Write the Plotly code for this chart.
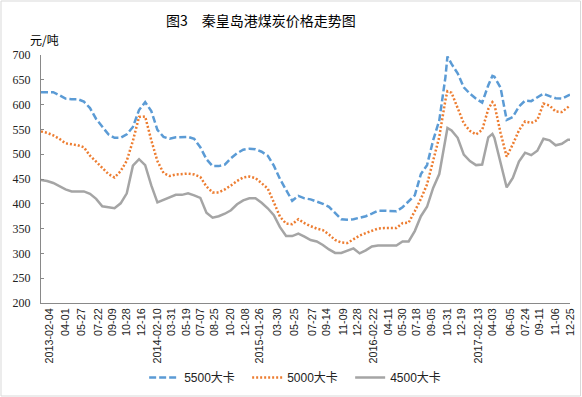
import plotly.graph_objects as go

dates = [
    "2013-01-07", "2013-01-28", "2013-02-18", "2013-03-11", "2013-04-01", "2013-04-22", "2013-05-13", "2013-06-03",
    "2013-06-24", "2013-07-15", "2013-08-05", "2013-08-26", "2013-09-16", "2013-10-07", "2013-10-28", "2013-11-18",
    "2013-12-09", "2013-12-30",
    "2014-01-20", "2014-02-10", "2014-03-03", "2014-03-24", "2014-04-14", "2014-05-05", "2014-05-26", "2014-06-16",
    "2014-07-07", "2014-07-28", "2014-08-18", "2014-09-08", "2014-09-29", "2014-10-20", "2014-11-10", "2014-12-01",
    "2014-12-22",
    "2015-01-12", "2015-02-02", "2015-02-23", "2015-03-16", "2015-04-06", "2015-04-27", "2015-05-18", "2015-06-08",
    "2015-06-29", "2015-07-20", "2015-08-10", "2015-08-31", "2015-09-21", "2015-10-12", "2015-11-02", "2015-11-23",
    "2015-12-14",
    "2016-01-04", "2016-01-25", "2016-02-15", "2016-03-07", "2016-03-28", "2016-04-18", "2016-05-09", "2016-05-30",
    "2016-06-20", "2016-07-11", "2016-08-01", "2016-08-22", "2016-09-12", "2016-10-03", "2016-10-24", "2016-10-31",
    "2016-11-14", "2016-12-05", "2016-12-26",
    "2017-01-16", "2017-02-06", "2017-02-27", "2017-03-20", "2017-04-03", "2017-04-10", "2017-05-01", "2017-05-22",
    "2017-06-12", "2017-07-03", "2017-07-24", "2017-08-14", "2017-09-04", "2017-09-25", "2017-10-16", "2017-11-06",
    "2017-11-27", "2017-12-18", "2017-12-25",
]

price_5500 = [
    625, 625, 625, 619, 612, 611, 611, 606, 593, 571, 555, 540, 533, 533, 540, 555, 589, 605,
    587, 549, 535, 531, 534, 535, 535, 531, 514, 490, 476, 476, 479, 492, 502, 509, 511,
    510, 505, 497, 477, 450, 427, 406, 416, 411, 409, 405, 400, 394, 381, 369, 368, 369,
    372, 375, 380, 386, 386, 385, 385, 393, 404, 417, 460, 478, 528, 568, 655, 697, 682, 663, 635,
    622, 612, 604, 639, 658, 656, 634, 569, 575, 596, 608, 607, 615, 622, 617, 613, 612, 618, 620,
]

price_5000 = [
    546, 543, 538, 531, 522, 520, 518, 514, 497, 485, 473, 460, 453, 466, 487, 527, 575, 576,
    528, 486, 462, 456, 459, 460, 461, 459, 454, 435, 423, 423, 429, 437, 446, 453, 455,
    452, 442, 431, 403, 374, 360, 359, 369, 361, 355, 350, 347, 338, 327, 322, 321, 328,
    336, 341, 346, 350, 351, 351, 351, 361, 362, 385, 410, 439, 487, 535, 609, 627, 624, 593, 562,
    547, 540, 549, 591, 605, 600, 543, 495, 520, 548, 566, 563, 569, 602, 598, 586, 585, 596, 598,
]

price_4500 = [
    448, 446, 442, 436, 429, 425, 425, 425, 420, 410, 395, 393, 391, 401, 421, 477, 490, 478,
    437, 403, 408, 413, 418, 418, 421, 417, 412, 382, 372, 375, 380, 387, 399, 407, 411,
    411, 402, 391, 377, 353, 335, 335, 340, 334, 327, 324, 317, 308, 301, 301, 305, 310,
    300, 306, 314, 316, 316, 316, 316, 324, 324, 345, 375, 394, 432, 460, 524, 553, 548, 533, 499,
    486, 478, 479, 534, 541, 533, 481, 433, 452, 485, 503, 498, 507, 531, 528, 518, 521, 529, 529,
]

series_names = ["5500大卡", "5000大卡", "4500大卡"]

tick_dates = [
    "2013-02-04", "2013-04-01", "2013-05-27", "2013-07-22", "2013-09-09", "2013-10-28", "2013-12-16",
    "2014-02-10", "2014-03-31", "2014-05-19", "2014-07-07", "2014-08-25", "2014-10-20", "2014-12-08",
    "2015-01-26", "2015-03-30", "2015-05-25", "2015-07-27", "2015-09-14", "2015-11-09", "2015-12-28",
    "2016-02-22", "2016-04-11", "2016-05-30", "2016-07-18", "2016-09-05", "2016-10-31", "2016-12-19",
    "2017-02-13", "2017-04-03", "2017-06-05", "2017-07-24", "2017-09-11", "2017-11-06", "2017-12-25",
]
tick_labels = [
    "2013-02-04", "04-01", "05-27", "07-22", "09-09", "10-28", "12-16",
    "2014-02-10", "03-31", "05-19", "07-07", "08-25", "10-20", "12-08",
    "2015-01-26", "03-30", "05-25", "07-27", "09-14", "11-09", "12-28",
    "2016-02-22", "04-11", "05-30", "07-18", "09-05", "10-31", "12-19",
    "2017-02-13", "04-03", "06-05", "07-24", "09-11", "11-06", "12-25",
]

y_ticks = [200, 250, 300, 350, 400, 450, 500, 550, 600, 650, 700]

SANS = "Liberation Sans, Noto Sans CJK SC, sans-serif"
CJK = "Noto Sans CJK SC, sans-serif"

fig = go.Figure()
fig.add_trace(go.Scatter(x=dates, y=price_5500, name=series_names[0], mode="lines",
                         line=dict(color="#5B9BD5", width=2.5, dash="7px,3px")))
fig.add_trace(go.Scatter(x=dates, y=price_5000, name=series_names[1], mode="lines",
                         line=dict(color="#ED7D31", width=2.5, dash="2px,2px")))
fig.add_trace(go.Scatter(x=dates, y=price_4500, name=series_names[2], mode="lines",
                         line=dict(color="#A5A5A5", width=2.5)))

fig.update_layout(
    width=582, height=397,
    margin=dict(l=41, r=12, t=55, b=94, autoexpand=False),
    paper_bgcolor="white", plot_bgcolor="white",
    showlegend=True,
    hovermode=False,
    legend=dict(orientation="h", x=0.195, xanchor="left", y=-0.30, yanchor="middle",
                entrywidth=58, entrywidthmode="pixels",
                font=dict(family=SANS, size=12, color="#222222"), bgcolor="rgba(0,0,0,0)"),
    xaxis=dict(type="date", range=["2013-01-07", "2017-12-25"], tickmode="array",
               tickvals=tick_dates, ticktext=tick_labels, tickangle=-90,
               tickfont=dict(family=SANS, size=10.8, color="#222222"),
               showgrid=False, zeroline=False, showline=True, linecolor="#898989", linewidth=1,
               ticks="", fixedrange=True),
    yaxis=dict(range=[200, 700], tickmode="array", tickvals=y_ticks,
               tickfont=dict(family="Liberation Serif, serif", size=12, color="#222222"),
               showgrid=False, zeroline=False, showline=True, linecolor="#898989", linewidth=1,
               ticks="inside", ticklen=3, tickcolor="#898989", ticklabelstandoff=7, fixedrange=True),
    annotations=[
        dict(text="图3　秦皇岛港煤炭价格走势图", xref="paper", yref="paper",
             x=(261 - 41) / 529, y=(303 - 20) / 248, xanchor="center", yanchor="middle",
             showarrow=False, font=dict(family=CJK, size=14, color="#000000")),
        dict(text="元/吨", xref="paper", yref="paper", x=-0.0246, y=1.0605,
             xanchor="left", yanchor="middle", showarrow=False,
             font=dict(family=CJK, size=12, color="#000000")),
    ],
    shapes=[dict(type="rect", xref="paper", yref="paper", x0=-0.0756, x1=1.0199, y0=-0.375, y1=1.2177,
                 line=dict(color="#D9D9D9", width=1), fillcolor="rgba(0,0,0,0)", layer="below")],
)

fig.write_html("out.html", config={"displayModeBar": False, "staticPlot": True},
               post_script="document.body.style.margin='0';document.body.style.padding='0';")
